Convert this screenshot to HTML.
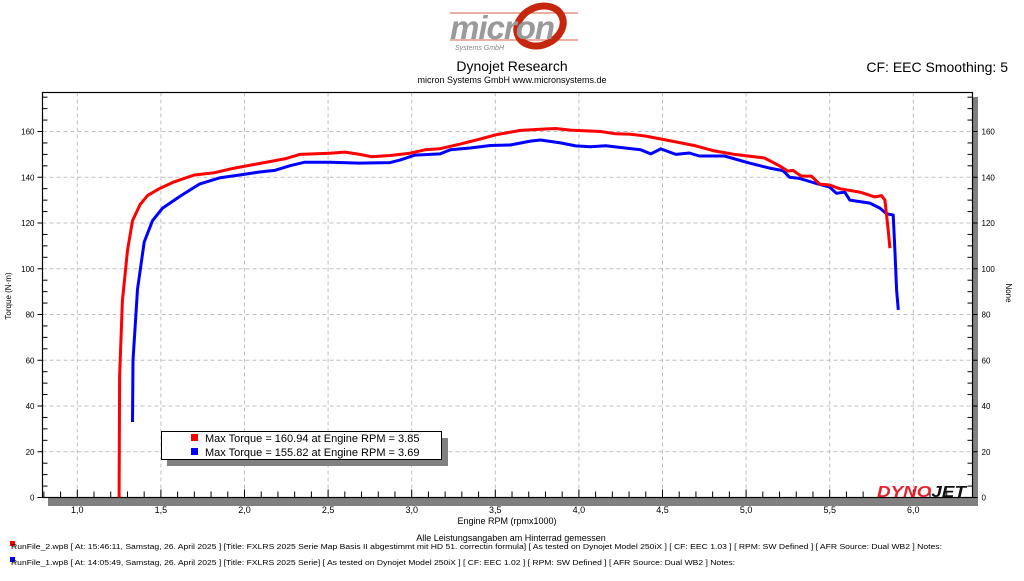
<!DOCTYPE html>
<html><head><meta charset="utf-8">
<style>
body{margin:0;background:#fff;width:1024px;height:576px;overflow:hidden;font-family:"Liberation Sans",sans-serif;}
svg text{font-family:"Liberation Sans",sans-serif;}
</style></head>
<body>
<svg id="chart" width="1024" height="576" viewBox="0 0 1024 576" xmlns="http://www.w3.org/2000/svg">
  <g>
    <ellipse cx="540" cy="26" rx="24" ry="19" fill="none" stroke="#c4260e" stroke-width="7" transform="rotate(-25 540 26)"/>
    <line x1="450" y1="13" x2="578" y2="13" stroke="#c4260e" stroke-width="0.8"/>
    <line x1="450" y1="40" x2="578" y2="40" stroke="#c4260e" stroke-width="0.8"/>
    <text x="450" y="39" font-size="33" font-weight="bold" font-style="italic" fill="#9a9a9a" letter-spacing="-1">micron</text>
    <text x="455" y="50" font-size="7" font-style="italic" fill="#888">Systems GmbH</text>
  </g>
  <text x="512" y="71" font-size="14" text-anchor="middle">Dynojet Research</text>
  <text x="512" y="83" font-size="9" text-anchor="middle">micron Systems GmbH  www.micronsystems.de</text>
  <text x="1008" y="72" font-size="14" text-anchor="end">CF: EEC Smoothing: 5</text>
  <rect x="972" y="97" width="6" height="409" fill="#808080"/>
  <rect x="48" y="498" width="930" height="8" fill="#808080"/>
  <g id="grid"></g>
  <g id="axes"></g>
  <g id="series"></g>
  <g>
    <text x="877" y="497" font-size="16" font-weight="bold" font-style="italic" textLength="89" lengthAdjust="spacingAndGlyphs"><tspan fill="#e8202a">DYNO</tspan><tspan fill="#111">JET</tspan></text>
  </g>
  <g>
    <rect x="167" y="438" width="281" height="28" fill="#808080"/>
    <rect x="161.5" y="431.5" width="280" height="28" fill="#fff" stroke="#000"/>
    <rect x="191" y="434" width="7" height="7" fill="#f00"/>
    <text x="205" y="442" font-size="11">Max Torque = 160.94 at Engine RPM = 3.85</text>
    <rect x="191" y="448" width="7" height="7" fill="#00f"/>
    <text x="205" y="456" font-size="11">Max Torque = 155.82 at Engine RPM = 3.69</text>
  </g>
  <text transform="translate(11 296) rotate(-90)" font-size="8" text-anchor="middle">Torque (N·m)</text>
  <text transform="translate(1006 293) rotate(90)" font-size="8" text-anchor="middle">None</text>
  <text x="507" y="524" font-size="9" text-anchor="middle">Engine RPM (rpmx1000)</text>
  <text x="511" y="541" font-size="9" text-anchor="middle">Alle Leistungsangaben am Hinterrad gemessen</text>
  <rect x="10" y="541" width="5" height="5" fill="#f00"/>
  <text x="11" y="549" font-size="7" textLength="931" lengthAdjust="spacingAndGlyphs">RunFile_2.wp8  [ At: 15:46:11, Samstag, 26. April 2025 ] [Title: FXLRS 2025 Serie Map Basis II abgestimmt mit HD 51. correctin formula]  [ As tested on Dynojet Model 250iX ] [ CF: EEC 1.03 ] [ RPM: SW Defined ] [ AFR Source: Dual WB2 ] Notes:</text>
  <rect x="10" y="557" width="5" height="5" fill="#00f"/>
  <text x="11" y="565" font-size="7" textLength="724" lengthAdjust="spacingAndGlyphs">RunFile_1.wp8  [ At: 14:05:49, Samstag, 26. April 2025 ] [Title: FXLRS 2025 Serie]  [ As tested on Dynojet Model 250iX ] [ CF: EEC 1.02 ] [ RPM: SW Defined ] [ AFR Source: Dual WB2 ] Notes:</text>
</svg>
<script>
const xTicks=[1.0,1.5,2.0,2.5,3.0,3.5,4.0,4.5,5.0,5.5,6.0];
const xTickLabels=["1,0","1,5","2,0","2,5","3,0","3,5","4,0","4,5","5,0","5,5","6,0"];
const yTicks=[0,20,40,60,80,100,120,140,160];
const redRpm=[1.25,1.253,1.27,1.30,1.33,1.375,1.42,1.49,1.58,1.70,1.82,1.94,2.09,2.24,2.33,2.51,2.60,2.69,2.76,2.87,2.99,3.08,3.17,3.29,3.41,3.50,3.65,3.77,3.86,3.95,4.13,4.22,4.31,4.40,4.49,4.61,4.70,4.81,4.93,5.11,5.20,5.25,5.28,5.33,5.39,5.44,5.50,5.56,5.68,5.77,5.81,5.83,5.85,5.86];
const redTorque=[0,53,86,108,121,128,132,135,138,141,142,144,146,148,150,150.5,151,150,149,149.5,150.5,152,152.5,154.5,156.7,158.5,160.5,161,161.3,160.6,160,159,158.8,158,156.7,155,153.7,151.5,150,148.4,145,142.7,143,140.5,140.5,137,136.6,135,133.5,131.4,132,130,117,109];
const blueRpm=[1.33,1.333,1.36,1.40,1.45,1.51,1.62,1.73,1.85,1.97,2.09,2.18,2.27,2.36,2.51,2.69,2.87,2.93,3.02,3.17,3.23,3.35,3.47,3.59,3.71,3.77,3.89,3.98,4.07,4.16,4.25,4.37,4.43,4.49,4.58,4.66,4.72,4.87,5.02,5.14,5.22,5.26,5.32,5.41,5.50,5.54,5.59,5.62,5.74,5.80,5.84,5.88,5.89,5.90,5.91];
const blueTorque=[33,60,91,111.7,121,126.5,132,137,139.7,141,142.3,143,145,146.6,146.6,146.2,146.4,147.5,149.7,150.2,152,152.8,153.9,154.1,155.8,156.3,155,153.7,153.3,153.8,153,152,150.2,152.4,150,150.6,149.3,149.3,146.2,144,142.9,140,139.5,137.5,135.7,133,133.5,130,128.7,126.5,124,123.5,108,90.7,82];

const NS="http://www.w3.org/2000/svg";
const L=42.5,R=972.5,T=92.5,B=497.5;
function xs(v){return 77.3+(v-1)*167.2;}
function ys(v){return 497.5-v*2.2875;}
function mk(tag,attrs,parent){const e=document.createElementNS(NS,tag);for(const k in attrs)e.setAttribute(k,attrs[k]);parent.appendChild(e);return e;}
const grid=document.getElementById('grid'),axes=document.getElementById('axes'),series=document.getElementById('series');
xTicks.forEach((v,i)=>{
  const g=mk('line',{x1:xs(v),x2:xs(v),y1:T,y2:B,stroke:'#c0c0c0','stroke-dasharray':'4,3'},grid);
  
  
  const t=mk('text',{x:xs(v),y:513,'font-size':9,'text-anchor':'middle'},axes);
  t.textContent=xTickLabels[i];
  
  
});
yTicks.forEach(v=>{
  if(v>0){const g=mk('line',{x1:L,x2:R,y1:ys(v),y2:ys(v),stroke:'#c0c0c0','stroke-dasharray':'4,3'},grid);
  
  }
  mk('line',{x1:L-5,x2:L,y1:ys(v),y2:ys(v),stroke:'#000'},axes);
  mk('line',{x1:R,x2:R+5,y1:ys(v),y2:ys(v),stroke:'#000'},axes);
  const t=mk('text',{x:L-8,y:ys(v)+3,'font-size':8,'text-anchor':'end'},axes);
  t.textContent=v;
  
  
  const t2=mk('text',{x:R+9,y:ys(v)+3,'font-size':8},axes);
  t2.textContent=v;
  
  
});
for(let v=5;v<=175;v+=5){if(v%20){const y=ys(v);if(y<T)continue;mk('line',{x1:L,x2:L+5,y1:y,y2:y,stroke:'#000'},axes);mk('line',{x1:R-5,x2:R,y1:y,y2:y,stroke:'#000'},axes);}}
for(let i=8;i<=62;i++){const v=i/10;const x=xs(v);if(x<L||x>R)continue;mk('line',{x1:x,x2:x,y1:B-(i%5===0?8:6),y2:B,stroke:'#000'},axes);}
mk('rect',{x:L,y:T,width:R-L,height:B-T,fill:'none',stroke:'#000','stroke-width':1.2},axes);
function line(xv,yv,col,name){
  const p=mk('polyline',{points:xv.map((v,i)=>xs(v).toFixed(1)+','+ys(yv[i]).toFixed(1)).join(' '),fill:'none',stroke:col,'stroke-width':3,'stroke-linejoin':'round'},series);
  
  
}
line(blueRpm,blueTorque,'#0000ff','torque-line-run1');
line(redRpm,redTorque,'#ff0000','torque-line-run2');
</script>
</body></html>
